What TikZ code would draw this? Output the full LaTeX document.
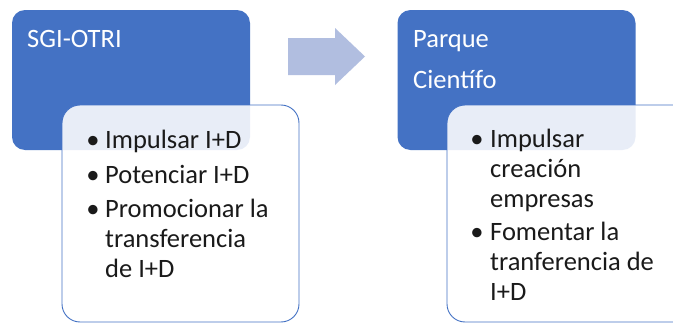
\documentclass[tikz,border=0pt]{standalone}
\usepackage{fontspec}
\setmainfont{Carlito}
\definecolor{accent}{HTML}{4472C4}
\definecolor{arrowc}{HTML}{B1BEE0}
\definecolor{txt}{HTML}{1A1A1A}
\tikzset{
  bluebox/.style={draw=none, fill=accent, rounded corners=13pt, minimum width=238pt, minimum height=140pt, inner sep=0pt},
  whitebox/.style={draw=accent, line width=0.9pt, fill=white, fill opacity=0.88, rounded corners=18pt, minimum height=217pt, inner sep=0pt},
  title/.style={anchor=base west, inner sep=0pt, text=white, font=\fontsize{26.5}{30}\selectfont},
  item/.style={anchor=base west, inner sep=0pt, text=txt, font=\fontsize{26.5}{30}\selectfont},
  dot/.style={anchor=base, inner sep=0pt, text=txt, font=\fontsize{26.5}{30}\selectfont},
}
\begin{document}
\begin{tikzpicture}[x=1pt,y=-1pt]
\useasboundingbox (0,0) rectangle (673,324);
\clip (0,0) rectangle (673,324);
\fill[white] (0,0) rectangle (673,324);
% blue title boxes
\node[bluebox] (b1) at (131,80) {};
\node[bluebox] (b2) at (516.5,80) {};
% arrow
\fill[arrowc] (288,38) -- (335,38) -- (335,28) -- (365,56.5) -- (335,85) -- (335,75) -- (288,75) -- cycle;
\coordinate (arr) at (326,56.5);
% white content boxes
\node[whitebox, minimum width=237pt] (w1) at (180.5,213.5) {};
\node[whitebox, minimum width=245pt] (w2) at (569.5,213.5) {};
% titles
\node[title] (t1) at (27,47) {SGI-OTRI};
\node[title] (t2a) at (413,47) {Parque};
\node[title] (t2b) at (413,88) {Científo};
% left items
\node[dot] (d1) at (93,148) {\textbullet};
\node[item] (l1) at (105,148) {Impulsar I+D};
\node[dot] (d2) at (93,183) {\textbullet};
\node[item] (l2) at (105,183) {Potenciar I+D};
\node[dot] (d3) at (93,217) {\textbullet};
\node[item] (l3) at (105,217) {Promocionar la};
\node[item] (l4) at (105,247) {transferencia};
\node[item] (l5) at (105,277) {de I+D};
% right items
\node[dot] (e1) at (477,147) {\textbullet};
\node[item] (r1) at (490,147) {Impulsar};
\node[item] (r2) at (490,177) {creación};
\node[item] (r3) at (490,207) {empresas};
\node[dot] (e2) at (477,240) {\textbullet};
\node[item] (r4) at (490,240) {Fomentar la};
\node[item] (r5) at (490,270) {tranferencia de};
\node[item] (r6) at (490,300) {I+D};
\end{tikzpicture}
\end{document}
